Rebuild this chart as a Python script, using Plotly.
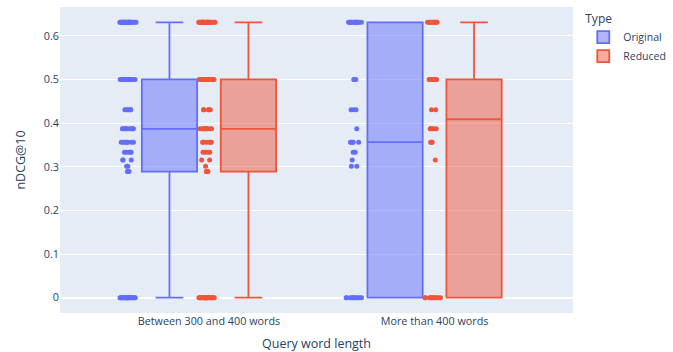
import numpy as np
import pandas as pd
import plotly.express as px

# Distinct nDCG@10 levels observed in the evaluation
levels = [0.0, 0.2890, 0.3010, 0.3155, 0.3333, 0.3562, 0.3869, 0.4307, 0.5000, 0.6309]

categories = ["Between 300 and 400 words", "More than 400 words"]
types = ["Original", "Reduced"]

# Number of queries at each level, per (length bucket, query type)
counts_300_400_original = [24, 3, 2, 3, 5, 7, 10, 6, 17, 23]
counts_300_400_reduced = [24, 4, 1, 2, 4, 6, 10, 5, 21, 23]
counts_400_plus_original = [11, 0, 2, 1, 2, 5, 1, 3, 3, 13]
counts_400_plus_reduced = [11, 0, 0, 1, 0, 3, 5, 2, 9, 9]

groups = [
    (categories[0], types[0], counts_300_400_original),
    (categories[0], types[1], counts_300_400_reduced),
    (categories[1], types[0], counts_400_plus_original),
    (categories[1], types[1], counts_400_plus_reduced),
]

rows = []
for cat, typ, counts in groups:
    for v in np.repeat(levels, counts):
        rows.append({"Query word length": cat, "nDCG@10": float(v), "Type": typ})
df = pd.DataFrame(rows)

fig = px.box(
    df,
    x="Query word length",
    y="nDCG@10",
    color="Type",
    points="all",
    category_orders={"Query word length": categories, "Type": types},
)
fig.update_traces(marker=dict(size=5), line=dict(width=1.8))

fig.update_layout(
    width=673,
    height=352,
    margin=dict(l=60, r=100, t=7, b=39, autoexpand=False),
    font=dict(size=10.8),
    legend=dict(title=dict(text="Type", font=dict(size=12)), font=dict(size=10.5)),
)
fig.update_xaxes(title=dict(font=dict(size=12.5)), automargin=False)
fig.update_yaxes(title=dict(font=dict(size=12.5)), automargin=False)

fig.write_html("out.html")
